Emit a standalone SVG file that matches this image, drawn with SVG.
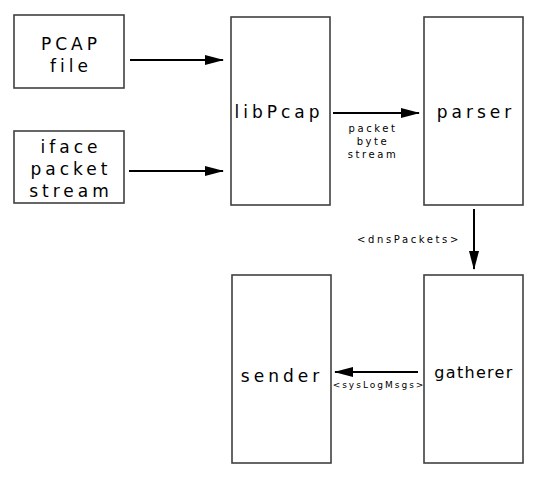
<svg xmlns="http://www.w3.org/2000/svg" width="543" height="489" viewBox="0 0 543 489">
<style>
.box{fill:#fff;stroke:#404040;stroke-width:1.6}
.big{font-family:"DejaVu Sans",sans-serif;font-size:17px;letter-spacing:4px;text-anchor:middle;fill:#000}
.sm{font-family:"DejaVu Sans",sans-serif;font-size:10px;letter-spacing:2.6px;text-anchor:middle;fill:#000}
.ln{stroke:#000;stroke-width:2;fill:none;marker-end:url(#ah)}
</style>
<defs>
<marker id="ah" markerWidth="19" markerHeight="10" refX="18" refY="5" orient="auto" markerUnits="userSpaceOnUse">
<path d="M0,0 L19,5 L0,10 z" fill="#000"/>
</marker>
</defs>
<rect width="543" height="489" fill="#fff"/>
<g id="pcap"><rect class="box" x="14" y="15" width="110" height="73"/><text class="big" x="71" y="50">PCAP</text><text class="big" x="71" y="72">file</text></g>
<g id="iface"><rect class="box" x="14" y="131" width="110" height="72"/><text class="big" x="71" y="153">iface</text><text class="big" x="71" y="175">packet</text><text class="big" x="71" y="197">stream</text></g>
<g id="libpcap"><rect class="box" x="231" y="17" width="99" height="188"/><text class="big" x="279" y="118">libPcap</text></g>
<g id="parser"><rect class="box" x="424" y="17" width="99" height="188"/><text class="big" x="476" y="118">parser</text></g>
<g id="sender"><rect class="box" x="232" y="275" width="99" height="188"/><text class="big" x="282" y="382">sender</text></g>
<g id="gatherer"><rect class="box" x="424" y="275" width="99" height="188"/><text class="big" x="474" y="378" style="font-size:16px;letter-spacing:1.3px">gatherer</text></g>
<g id="connectors">
<path class="ln" d="M130,60 H223"/>
<path class="ln" d="M129,171 H223"/>
<path class="ln" d="M333,113 H419"/>
<path class="ln" d="M474,209 V269"/>
<path class="ln" d="M418,372 H335"/>
<text class="sm" x="373" y="132">packet</text>
<text class="sm" x="373" y="145">byte</text>
<text class="sm" x="373" y="158">stream</text>
<text class="sm" x="409" y="243">&lt;dnsPackets&gt;</text>
<text class="sm" x="379" y="388" style="font-size:9px;letter-spacing:2px">&lt;sysLogMsgs&gt;</text>
</g>
</svg>
